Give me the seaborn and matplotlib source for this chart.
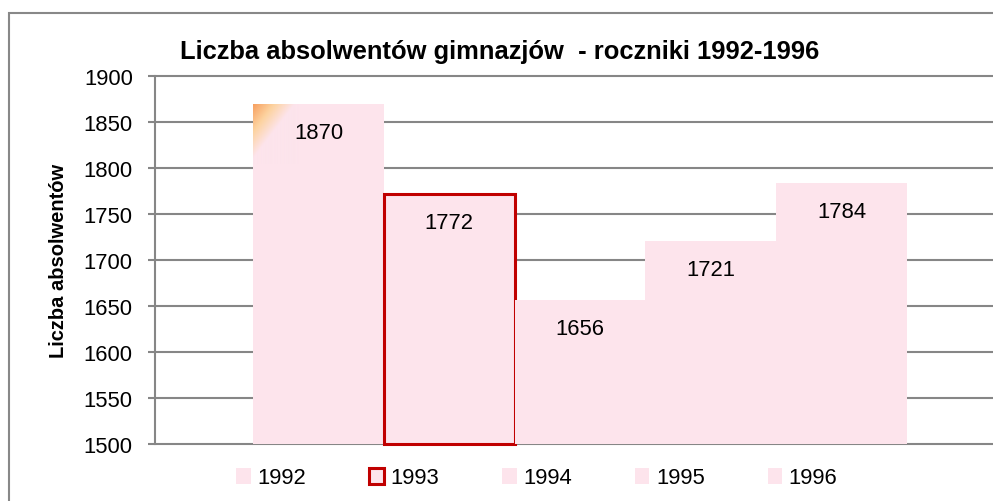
import numpy as np
import seaborn as sns
import matplotlib.pyplot as plt
from matplotlib.patches import Patch, Rectangle
from matplotlib.colors import to_rgb

years = ['1992', '1993', '1994', '1995', '1996']
absolwenci = [1870, 1772, 1656, 1721, 1784]
y_ticks = [1500, 1550, 1600, 1650, 1700, 1750, 1800, 1850, 1900]

pink = '#FDE4EC'
red = '#C00000'
grey = '#868686'
fs = 15.8

sns.set_theme(style='white')
plt.rcParams['font.family'] = ['Liberation Sans', 'DejaVu Sans']
plt.rcParams['text.color'] = 'black'
plt.rcParams['axes.labelcolor'] = 'black'
plt.rcParams['ytick.color'] = 'black'

fig = plt.figure(figsize=(9.93, 5.02), dpi=100)
ax = fig.add_axes([155 / 993, 1 - 445 / 502, 1 - 155 / 993, (445 - 77) / 502])

sns.barplot(x=years, y=absolwenci, hue=years, palette=[pink] * 5, saturation=1,
            width=1.0, dodge=False, legend=False, ax=ax, linewidth=0)

# bars start at the axis minimum, like in Excel
for i, p in enumerate(ax.patches):
    p.set_y(1500)
    p.set_height(absolwenci[i] - 1500)
    p.set_clip_on(False)
    p.set_zorder(2)
ax.patches[1].set_edgecolor(red)
ax.patches[1].set_linewidth(2.2)

# labels inside the bars
for i, v in enumerate(absolwenci):
    ax.text(i, v - 31, str(v), ha='center', va='center', fontsize=fs,
            color='black', zorder=5)

# small orange gradient in the corner of the first bar
n = 60
gx, gy = np.meshgrid(np.linspace(0, 1, n), np.linspace(0, 1, n))
w = np.clip(1 - (gx + gy) * 1.1, 0, 1)
c_or = np.array(to_rgb('#F7A060'))
c_peach = np.array(to_rgb('#FDD3A0'))
c_pink = np.array(to_rgb(pink))
img = np.zeros((n, n, 3))
for k in range(3):
    mid = c_peach[k] + (c_or[k] - c_peach[k]) * np.clip((w - 0.5) * 2, 0, 1)
    img[..., k] = np.where(w > 0.5, mid, c_pink[k] + (c_peach[k] - c_pink[k]) * w * 2)
ax.imshow(img, extent=(-0.5, -0.5 + 45 / 130.6, 1870 - 60 / 0.92, 1870),
          origin='upper', aspect='auto', zorder=3)

ax.set_xlim(-0.5 - 98 / 130.6, 4.5 + 86 / 130.6)
ax.set_ylim(1500, 1900)
ax.set_yticks(y_ticks)
ax.set_yticklabels([str(t) for t in y_ticks], fontsize=fs)
ax.set_xticks([])
ax.set_xlabel('')
ax.set_ylabel('Liczba absolwentów', fontsize=14.5, fontweight='bold')
ax.yaxis.set_label_coords(-(155 - 68) / (993 - 155), 0.5)

ax.set_axisbelow(True)
ax.yaxis.grid(True, color=grey, linewidth=1.5)
for gl in ax.get_ygridlines():
    gl.set_clip_on(False)
for s in ['top', 'right', 'bottom']:
    ax.spines[s].set_visible(False)
ax.spines['left'].set_color(grey)
ax.spines['left'].set_linewidth(1.5)
ax.tick_params(axis='y', left=True, length=5, width=1.5, color=grey, pad=11)

handles = [Patch(facecolor=pink, edgecolor='none'),
           Patch(facecolor=pink, edgecolor=red, linewidth=2.2),
           Patch(facecolor=pink, edgecolor='none'),
           Patch(facecolor=pink, edgecolor='none'),
           Patch(facecolor=pink, edgecolor='none')]
fig.legend(handles, years, loc='center', bbox_to_anchor=(537 / 993, 1 - 479 / 502),
           ncol=5, frameon=False, fontsize=fs, handlelength=0.66, handleheight=0.7,
           handletextpad=0.3, columnspacing=2.87)

fig.text(500 / 993, 1 - 52 / 502, 'Liczba absolwentów gimnazjów  - roczniki 1992-1996',
         ha='center', va='center', fontsize=18.4, fontweight='bold')

fig.add_artist(Rectangle((9 / 993, -0.1), 1.2, 1.1 - 14 / 502, transform=fig.transFigure,
                         fill=False, edgecolor='#888888', linewidth=1.5))

fig.savefig('out.png', dpi=100)
